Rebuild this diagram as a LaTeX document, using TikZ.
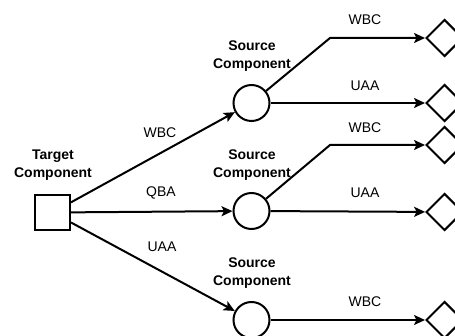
\documentclass[tikz,border=0pt]{standalone}
\usepackage{fontspec}
\setmainfont{Liberation Sans}
\usetikzlibrary{shapes.geometric,arrows.meta}
\begin{document}
\begin{tikzpicture}[x=1pt,y=-1pt,
  line width=2pt,
  arr/.style={-{Stealth[length=11pt,width=10pt,inset=2.5pt]}},
  sq/.style={draw,fill=white,minimum size=35pt,inner sep=0pt},
  circ/.style={draw,fill=white,circle,minimum size=36pt,inner sep=0pt},
  dia/.style={draw,fill=white,diamond,minimum width=37pt,minimum height=37pt,inner sep=0pt},
  ttl/.style={font=\bfseries\fontsize{14}{17.5}\selectfont,align=center},
  lbl/.style={font=\fontsize{14}{16}\selectfont}]
\useasboundingbox (0,0) rectangle (455,336);
\node[sq] (t) at (52.5,212.5) {};
\node[ttl] (tl) at (53,165) {Target\\Component};
\node[circ] (c1) at (251.5,103) {};
\node[circ] (c2) at (251.5,211) {};
\node[circ] (c3) at (251.5,320) {};
\node[ttl] (s1) at (252,56) {Source\\Component};
\node[ttl] (s2) at (252,165) {Source\\Component};
\node[ttl] (s3) at (252,273) {Source\\Component};
\node[dia] (d1) at (444.5,38) {};
\node[dia] (d2) at (444.5,103) {};
\node[dia] (d3) at (444.5,145) {};
\node[dia] (d4) at (444.5,212) {};
\node[dia] (d5) at (444.5,320) {};
\coordinate (b1) at (330,38);
\coordinate (b2) at (330,145);
\draw[arr] (t) -- (c1);
\draw[arr] (t) -- (c2);
\draw[arr] (t) -- (c3);
\draw[arr] (c1) -- (b1) -- (d1);
\draw[arr] (c1) -- (d2);
\draw[arr] (c2) -- (b2) -- (d3);
\draw[arr] (c2) -- (d4);
\draw[arr] (c3) -- (d5);
\node[lbl] (l1) at (160,133) {WBC};
\node[lbl] (l2) at (161,193) {QBA};
\node[lbl] (l3) at (162,247) {UAA};
\node[lbl] (l4) at (365,20) {WBC};
\node[lbl] (l5) at (365,86) {UAA};
\node[lbl] (l6) at (365,128) {WBC};
\node[lbl] (l7) at (365,193) {UAA};
\node[lbl] (l8) at (365,302) {WBC};
\end{tikzpicture}
\end{document}
